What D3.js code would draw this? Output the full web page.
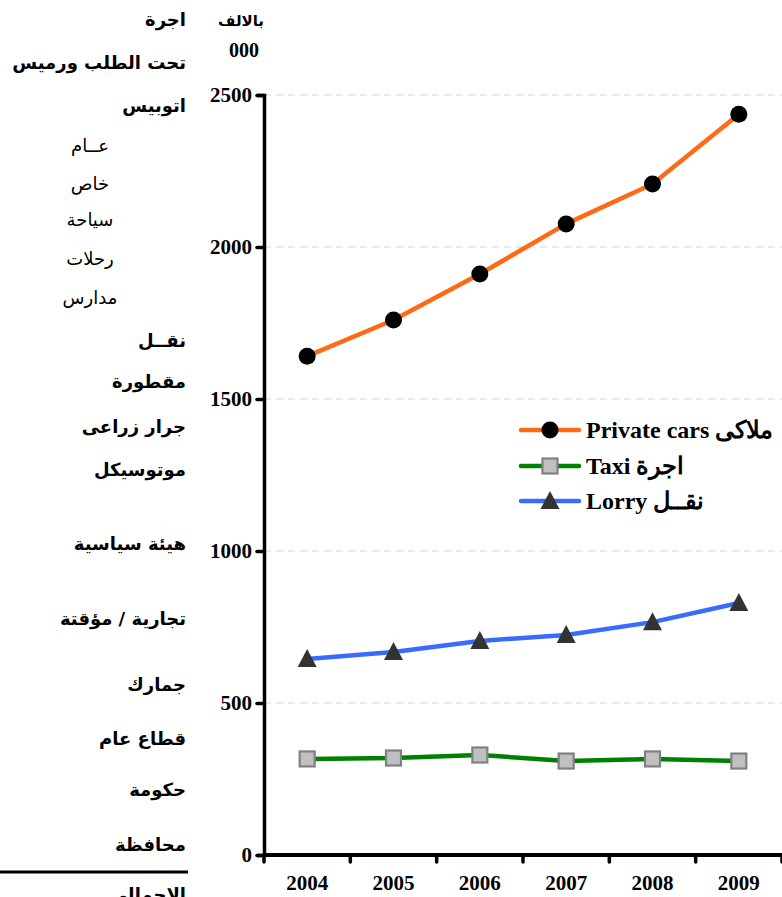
<!DOCTYPE html>
<html><head><meta charset="utf-8">
<script src="https://cdn.jsdelivr.net/npm/d3@7"></script>
<style>
html,body{margin:0;padding:0;background:#fff;overflow:hidden}
svg{display:block}
</style></head>
<body>
<svg id="c" width="782" height="897"></svg>
<script>
const years = ["2004","2005","2006","2007","2008","2009"];
const privateCars = [1641, 1760, 1911, 2076, 2207, 2437];
const taxi = [316, 319, 329, 309, 316, 309];
const lorry = [645, 668, 704, 724, 766, 829];
const yTicks = [0, 500, 1000, 1500, 2000, 2500];
const seriesNames = ["Private cars ملاكى", "Taxi اجرة", "Lorry نقــل"];
const unitLabel = ["بالالف", "000"];
const sideLabels = [
  {t:"اجرة", b:true, y:20},
  {t:"تحت الطلب ورميس", b:true, y:63},
  {t:"اتوبيس", b:true, y:106},
  {t:"عــام", b:false, y:146},
  {t:"خاص", b:false, y:184},
  {t:"سياحة", b:false, y:220},
  {t:"رحلات", b:false, y:259},
  {t:"مدارس", b:false, y:298},
  {t:"نقــل", b:true, y:341},
  {t:"مقطورة", b:true, y:382},
  {t:"جرار زراعى", b:true, y:427},
  {t:"موتوسيكل", b:true, y:470},
  {t:"هيئة سياسية", b:true, y:544},
  {t:"تجارية / مؤقتة", b:true, y:619},
  {t:"جمارك", b:true, y:685},
  {t:"قطاع عام", b:true, y:739},
  {t:"حكومة", b:true, y:790},
  {t:"محافظة", b:true, y:845},
  {t:"الاجمالى", b:true, y:895}
];

(function(){
const svg = d3.select("#c");
const pl = 264, pr = 782, pt = 95, pb = 855;
const x = d3.scaleBand().domain(years).range([pl, pr]).padding(0);
const y = d3.scaleLinear().domain([0, 2500]).range([pb, pt]);
const serif = "'Liberation Serif','Times New Roman',serif";
const arab = "'DejaVu Sans',Arial,sans-serif";

// gridlines
svg.append("g").selectAll("line").data(yTicks.filter(d=>d>0)).join("line")
  .attr("x1", pl).attr("x2", pr)
  .attr("y1", d=>y(d)).attr("y2", d=>y(d))
  .attr("stroke", "#d4d4d4").attr("stroke-width", 1)
  .attr("stroke-dasharray", "7,5");

// y axis
const ya = svg.append("g").attr("transform", `translate(${pl},0)`)
  .call(d3.axisLeft(y).tickValues(yTicks).tickSize(7).tickPadding(5).tickFormat(d3.format("d")));
ya.select(".domain").attr("stroke", "#000").attr("stroke-width", 3.5);
ya.selectAll(".tick line").attr("stroke", "#000").attr("stroke-width", 3.5).attr("stroke-linecap","round");
ya.selectAll("text").attr("font-family", serif).attr("font-weight", "bold").attr("font-size", 21).attr("fill","#000");

// x axis
const xa = svg.append("g").attr("transform", `translate(0,${pb})`)
  .call(d3.axisBottom(x).tickSize(0).tickPadding(20));
xa.select(".domain").remove();
xa.selectAll("text").attr("font-family", serif).attr("font-weight", "bold").attr("font-size", 21).attr("fill","#000");
svg.append("line").attr("x1", pl).attr("x2", pr).attr("y1", pb).attr("y2", pb)
  .attr("stroke","#000").attr("stroke-width", 4);
const bounds = years.map(d=>x(d)).concat([x(years[years.length-1]) + x.bandwidth()]);
svg.append("g").selectAll("line").data(bounds).join("line")
  .attr("x1", d=>d).attr("x2", d=>d).attr("y1", pb).attr("y2", pb+7)
  .attr("stroke","#000").attr("stroke-width", 3.5).attr("stroke-linecap","round");

// unit label
svg.append("text").attr("x", 241).attr("y", 26).attr("text-anchor","middle")
  .attr("font-family", arab).attr("font-weight","bold").attr("font-size", 15).text(unitLabel[0]);
svg.append("text").attr("x", 244).attr("y", 57).attr("text-anchor","middle")
  .attr("font-family", serif).attr("font-weight","bold").attr("font-size", 20).text(unitLabel[1]);

// side labels
svg.append("g").selectAll("text").data(sideLabels).join("text")
  .attr("x", d=>d.b ? 186 : 90)
  .attr("y", d=>d.y)
  .attr("dy", "0.35em")
  .attr("text-anchor", d=>d.b ? "end" : "middle")
  .attr("font-family", arab)
  .attr("font-weight", d=>d.b ? "bold" : "normal")
  .attr("font-size", 18)
  .attr("fill", "#000")
  .text(d=>d.t);
svg.append("line").attr("x1", 0).attr("x2", 188).attr("y1", 872).attr("y2", 872)
  .attr("stroke","#000").attr("stroke-width", 3);

const cx = d => x(d) + x.bandwidth()/2;
const series = [
  {name: seriesNames[0], values: privateCars, color: "#ff6a17", marker: "circle"},
  {name: seriesNames[1], values: taxi, color: "#008000", marker: "square"},
  {name: seriesNames[2], values: lorry, color: "#3a6bff", marker: "triangle"}
];
const line = d3.line().x((d,i)=>cx(years[i])).y(d=>y(d));

function drawMarker(g, type, px, py) {
  if (type === "circle") {
    g.append("circle").attr("cx", px).attr("cy", py).attr("r", 8.5).attr("fill", "#000");
  } else if (type === "square") {
    g.append("rect").attr("x", px-7.5).attr("y", py-7.5).attr("width", 15).attr("height", 15)
      .attr("fill", "#c0c0c0").attr("stroke", "#808080").attr("stroke-width", 2.2);
  } else {
    g.append("path").attr("d", `M${px},${py-10}L${px+9.5},${py+8}L${px-9.5},${py+8}Z`)
      .attr("fill", "#333333");
  }
}

series.forEach(s => {
  svg.append("path").datum(s.values).attr("d", line)
    .attr("fill","none").attr("stroke", s.color).attr("stroke-width", 4.5)
    .attr("stroke-linejoin","round");
  const g = svg.append("g");
  s.values.forEach((v,i) => drawMarker(g, s.marker, cx(years[i]), y(v)));
});

// legend
const legY = [430, 466, 501];
series.forEach((s, i) => {
  const g = svg.append("g");
  g.append("line").attr("x1", 521).attr("x2", 579).attr("y1", legY[i]).attr("y2", legY[i])
    .attr("stroke", s.color).attr("stroke-width", 4.5).attr("stroke-linecap","round");
  drawMarker(g, s.marker, 550, legY[i]);
  g.append("text").attr("x", 586).attr("y", legY[i]).attr("dy","0.35em")
    .attr("font-family", serif).attr("font-weight","bold").attr("font-size", 24)
    .attr("fill","#000").text(s.name);
});
})();
</script>
</body></html>
